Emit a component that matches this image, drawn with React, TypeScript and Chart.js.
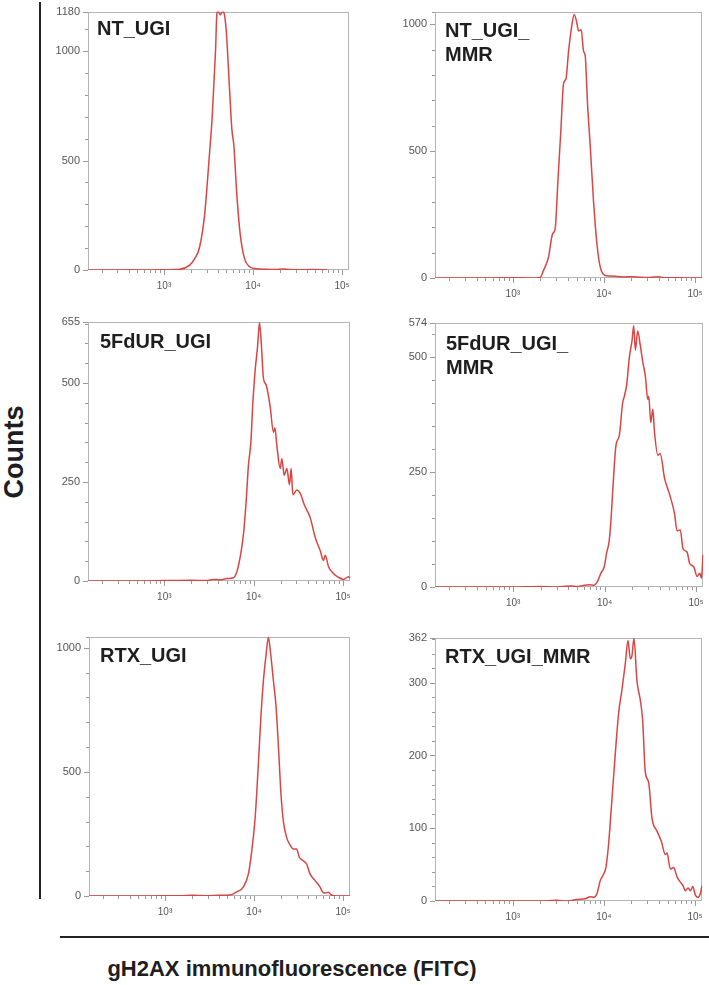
import React, { useEffect, useRef } from 'react';
import { Chart, registerables } from 'chart.js';

Chart.register(...registerables);
Chart.defaults.font.family = "'Liberation Sans', Arial, sans-serif";

// ---------- data (fluorescence value, counts) ----------
const ntUgiX = [140, 250, 400, 700, 1000, 1300, 1500, 1940, 2210, 2510, 2860, 3200, 3480, 3790, 3930, 4050, 4290, 4550, 4670, 5000, 5450, 5780, 6090, 6570, 7170, 8020, 9120, 10800, 14000, 18000, 21500, 26000, 33100, 45000, 68000];
const ntUgiY = [0, 0, 1, 0, 1, 2, 3, 22, 52, 105, 254, 501, 703, 1002, 1174, 1180, 1166, 1180, 1178, 1092, 822, 643, 568, 344, 164, 52, 15, 6, 3, 2, 5, 2, 1, 2, 0];

const ntUgiMmrX = [140, 300, 600, 1000, 1500, 2000, 2170, 2460, 2720, 2920, 3120, 3370, 3600, 3830, 4090, 4450, 4720, 5050, 5260, 5630, 5970, 6230, 6600, 7070, 7690, 8380, 9110, 10300, 11500, 13300, 16000, 20300, 25000, 32000, 39800, 45000, 55800, 80000, 120000];
const ntUgiMmrY = [0, 0, 0, 1, 0, 2, 30, 81, 172, 197, 378, 585, 765, 785, 894, 998, 1039, 1004, 974, 978, 894, 875, 688, 520, 301, 133, 43, 10, 8, 7, 4, 5, 3, 2, 5, 1, 1, 0, 0];

const fdurUgiX = [140, 500, 1000, 2000, 2990, 3500, 4200, 5000, 5930, 6470, 7050, 7680, 8230, 8730, 9290, 9780, 10380, 11020, 11600, 12100, 12850, 13770, 15270, 16640, 17250, 18160, 19780, 20650, 21920, 23490, 25120, 26240, 27400, 30370, 33110, 36710, 42860, 48750, 55430, 60400, 63100, 68700, 78100, 88900, 101000, 115000, 120000];
const fdurUgiY = [0, 0, 1, 2, 1, 4, 3, 6, 8, 23, 60, 118, 201, 292, 350, 450, 532, 590, 652, 607, 512, 495, 441, 375, 387, 342, 284, 309, 267, 284, 243, 284, 218, 230, 222, 193, 160, 110, 77, 52, 65, 36, 19, 9, 4, 11, 8];

const fdurUgiMmrX = [140, 500, 1000, 2000, 2920, 3500, 4300, 5000, 5730, 6780, 7690, 8370, 9110, 9910, 10500, 11240, 11730, 12440, 13300, 14480, 15750, 16430, 17420, 18650, 19940, 20800, 21700, 23000, 24410, 26110, 27920, 29630, 30390, 31970, 33640, 35100, 38190, 40520, 45210, 51340, 58280, 61850, 67200, 71900, 79600, 85200, 94300, 102500, 109700, 114400, 119000];
const fdurUgiMmrY = [0, 0, 0, 1, 0, 1, 2, 1, 3, 5, 4, 12, 30, 44, 73, 101, 144, 229, 307, 329, 400, 414, 439, 499, 535, 567, 514, 556, 528, 489, 457, 407, 414, 357, 386, 336, 286, 290, 236, 201, 158, 122, 124, 83, 76, 51, 44, 23, 30, 19, 70];

const rtxUgiX = [140, 500, 1000, 1500, 2000, 3000, 4000, 5400, 6400, 7600, 8650, 9420, 10280, 11200, 12000, 12740, 13650, 14490, 15390, 16490, 17670, 18760, 20100, 21340, 23240, 25770, 27610, 30080, 32240, 35730, 38930, 42390, 48270, 54930, 59850, 64000, 68100, 74200, 84400, 100000, 120000];
const rtxUgiY = [0, 0, 1, 1, 3, 1, 3, 4, 17, 37, 90, 182, 314, 538, 736, 868, 973, 1042, 973, 868, 762, 604, 406, 301, 235, 202, 189, 189, 156, 142, 129, 90, 63, 37, 13, 12, 15, 4, 0, 0, 0];

const rtxUgiMmrX = [140, 500, 1000, 2000, 3000, 4080, 5000, 6230, 7070, 7690, 8370, 9110, 9910, 10500, 11240, 12030, 13090, 14480, 15750, 17140, 18340, 19450, 20280, 21340, 23000, 25050, 26560, 28420, 30930, 33640, 38190, 42590, 47130, 49200, 53500, 58200, 63400, 68900, 73700, 78200, 83700, 88800, 94200, 100700, 107700, 114000, 119000];
const rtxUgiMmrY = [0, 0, 0, 0, 1, 0, 2, 3, 6, 5, 10, 28, 37, 46, 78, 127, 190, 258, 290, 326, 358, 333, 337, 361, 303, 276, 249, 177, 163, 114, 96, 82, 64, 66, 44, 46, 33, 26, 21, 14, 18, 14, 20, 8, 5, 10, 21];

const panelXs = [ntUgiX, ntUgiMmrX, fdurUgiX, fdurUgiMmrX, rtxUgiX, rtxUgiMmrX];
const panelYs = [ntUgiY, ntUgiMmrY, fdurUgiY, fdurUgiMmrY, rtxUgiY, rtxUgiMmrY];
const panelTitles = [['NT_UGI'], ['NT_UGI_', 'MMR'], ['5FdUR_UGI'], ['5FdUR_UGI_', 'MMR'], ['RTX_UGI'], ['RTX_UGI_MMR']];
const yAxisMax = [1180, 1050, 655, 574, 1045, 362];
const yMajorStep = [500, 500, 250, 250, 500, 100];
const yMinorStep = [100, 100, 50, 50, 100, 20];
const yShowMaxLabel = [true, false, true, true, false, true];

const xAxisMin = 140;
const xAxisMax = 120000;
const xTickValues = [200, 300, 400, 500, 600, 700, 800, 900, 1000, 2000, 3000, 4000, 5000, 6000, 7000, 8000, 9000, 10000, 20000, 30000, 40000, 50000, 60000, 70000, 80000, 90000, 100000];
const xMajorTicks = [1000, 10000, 100000];
const xTickLabels = ['10\u00B3', '10\u2074', '10\u2075'];

const yAxisTitle = 'Counts';
const xAxisTitle = 'gH2AX immunofluorescence (FITC)';

// ---------- layout ----------
const panelAreas = [
  [88, 7, 350, 270],
  [435, 7, 703, 278],
  [88, 317, 351, 581],
  [435, 318, 704, 587],
  [89, 632, 351, 896],
  [435, 633, 703, 901],
];
const panelTitleLeft = [97, 445, 100, 446, 100, 445];
const panelTitleBaseline = [35, 37, 348, 350, 662, 663];

const PAD_L = 50;
const PAD_T = 10;
const PAD_R = 10;
const PAD_B = 30;

const framePlugin = {
  id: 'frameTicks',
  beforeDatasetsDraw(chart: any) {
    const { ctx, chartArea: a, scales } = chart;
    ctx.save();
    ctx.strokeStyle = '#b4b4b4';
    ctx.lineWidth = 1;
    ctx.strokeRect(Math.round(a.left) + 0.5, Math.round(a.top) + 0.5, Math.round(a.right - a.left) - 1, Math.round(a.bottom - a.top) - 1);
    ctx.strokeStyle = '#9a9a9a';
    ctx.beginPath();
    for (const t of scales.y.ticks) {
      const py = Math.round(scales.y.getPixelForValue(t.value)) + 0.5;
      const len = t.major ? 5 : 3;
      ctx.moveTo(Math.round(a.left) - len, py);
      ctx.lineTo(Math.round(a.left), py);
    }
    for (const t of scales.x.ticks) {
      const px = Math.round(scales.x.getPixelForValue(t.value)) + 0.5;
      const len = t.major ? 5 : 3;
      ctx.moveTo(px, Math.round(a.bottom));
      ctx.lineTo(px, Math.round(a.bottom) + len);
    }
    ctx.stroke();
    ctx.restore();
  },
};

function Panel({ idx }: { idx: number }) {
  const ref = useRef<HTMLCanvasElement | null>(null);
  const [L, T, R, B] = panelAreas[idx];
  const W = R - L + PAD_L + PAD_R;
  const H = B - T + PAD_T + PAD_B;

  useEffect(() => {
    const xs = panelXs[idx];
    const ys = panelYs[idx];
    const ymax = yAxisMax[idx];
    const major = yMajorStep[idx];
    const minor = yMinorStep[idx];
    const showMax = yShowMaxLabel[idx];
    const chart = new Chart(ref.current as HTMLCanvasElement, {
      type: 'line',
      data: {
        datasets: [
          {
            data: xs.map((x, i) => ({ x, y: ys[i] })),
            borderColor: '#d84644',
            borderWidth: 1.5,
            pointRadius: 0,
            cubicInterpolationMode: 'monotone',
            fill: false,
          },
        ],
      },
      options: {
        responsive: false,
        maintainAspectRatio: false,
        animation: false,
        devicePixelRatio: 1,
        events: [],
        layout: { padding: { left: 0, top: PAD_T, right: PAD_R, bottom: 0 } },
        plugins: { legend: { display: false }, tooltip: { enabled: false } },
        scales: {
          x: {
            type: 'logarithmic',
            min: xAxisMin,
            max: xAxisMax,
            grid: { display: false, drawTicks: false },
            border: { display: false },
            ticks: {
              autoSkip: false,
              maxRotation: 0,
              minRotation: 0,
              padding: 10,
              color: '#555555',
              font: { size: 10 },
              callback: (v: any) => {
                const k = xMajorTicks.indexOf(Number(v));
                return k >= 0 ? xTickLabels[k] : '';
              },
            },
            afterBuildTicks: (s: any) => {
              s.ticks = xTickValues
                .filter((v) => v >= xAxisMin && v <= xAxisMax)
                .map((v) => ({ value: v, major: xMajorTicks.includes(v) }));
            },
            afterFit: (s: any) => {
              s.height = PAD_B;
            },
          },
          y: {
            type: 'linear',
            min: 0,
            max: ymax,
            grid: { display: false, drawTicks: false },
            border: { display: false },
            ticks: {
              autoSkip: false,
              padding: 8,
              color: '#555555',
              font: { size: 11 },
              callback: (v: any) => {
                const n = Number(v);
                if (n % major === 0 && ymax - n > major * 0.25) return String(n);
                if (n === ymax && showMax) return String(n);
                if (n % major === 0 && !showMax) return String(n);
                return '';
              },
            },
            afterBuildTicks: (s: any) => {
              const t: any[] = [];
              for (let v = 0; v <= ymax; v += minor) t.push({ value: v, major: v % major === 0 });
              if (ymax % minor !== 0) t.push({ value: ymax, major: showMax });
              s.ticks = t;
            },
            afterFit: (s: any) => {
              s.width = PAD_L;
            },
          },
        },
      },
      plugins: [framePlugin],
    } as any);
    return () => chart.destroy();
  }, [idx]);

  return (
    <canvas
      ref={ref}
      width={W}
      height={H}
      style={{ position: 'absolute', left: L - PAD_L, top: T - PAD_T, width: W, height: H }}
    />
  );
}

const textFont = "'Liberation Sans', Arial, sans-serif";

export default function App() {
  return (
    <div
      style={{
        position: 'absolute',
        left: 0,
        top: 0,
        width: 709,
        height: 985,
        overflow: 'hidden',
        background: '#ffffff',
        fontFamily: textFont,
      }}
    >
      {panelAreas.map((_, i) => (
        <Panel key={i} idx={i} />
      ))}
      {panelTitles.map((lines, i) => (
        <div
          key={'t' + i}
          style={{
            position: 'absolute',
            left: panelTitleLeft[i],
            top: panelTitleBaseline[i] - 19,
            fontSize: 20,
            lineHeight: '24px',
            fontWeight: 'bold',
            color: '#1e1e1e',
            whiteSpace: 'nowrap',
          }}
        >
          {lines.map((l, j) => (
            <div key={j}>{l}</div>
          ))}
        </div>
      ))}
      <div style={{ position: 'absolute', left: 39, top: 2, width: 2, height: 897, background: '#222222' }} />
      <div style={{ position: 'absolute', left: 60, top: 936, width: 649, height: 2, background: '#222222' }} />
      <div
        style={{
          position: 'absolute',
          left: 14,
          top: 452,
          transform: 'translate(-50%, -50%) rotate(-90deg)',
          fontSize: 27,
          fontWeight: 'bold',
          color: '#1e1e1e',
          whiteSpace: 'nowrap',
          lineHeight: 1,
        }}
      >
        {yAxisTitle}
      </div>
      <div
        style={{
          position: 'absolute',
          left: 292,
          top: 958,
          transform: 'translateX(-50%)',
          fontSize: 22,
          fontWeight: 'bold',
          color: '#1e1e1e',
          whiteSpace: 'nowrap',
          lineHeight: 1,
        }}
      >
        {xAxisTitle}
      </div>
    </div>
  );
}
